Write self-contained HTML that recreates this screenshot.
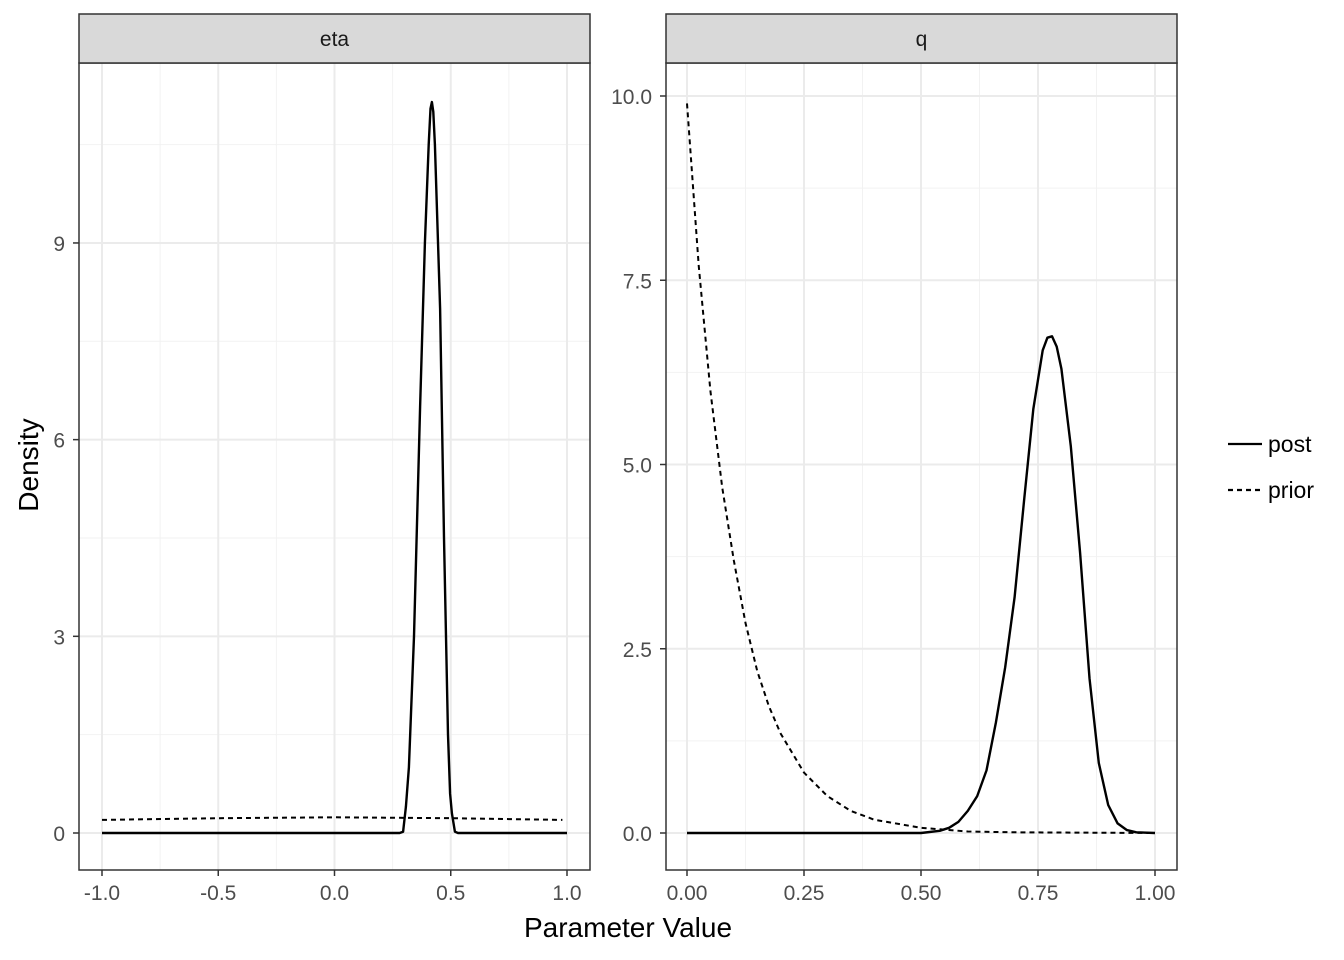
<!DOCTYPE html>
<html><head><meta charset="utf-8"><style>
html,body{margin:0;padding:0;background:#fff}
svg{display:block;font-family:"Liberation Sans",sans-serif}
</style></head><body>
<svg id="chart" width="1344" height="960"></svg>
<script>
// ---- data ----
const etaXTicks=[-1,-0.5,0,0.5,1];
const etaXLabels=["-1.0","-0.5","0.0","0.5","1.0"];
const etaYTicks=[0,3,6,9];
const etaYLabels=["0","3","6","9"];
const etaPostX=[-1,0.28,0.295,0.307,0.32,0.342,0.368,0.389,0.405,0.413,0.419,0.425,0.432,0.454,0.471,0.488,0.497,0.505,0.518,0.531,1];
const etaPostY=[0,0,0.02,0.4,1.0,3,6.5,9,10.5,11.05,11.15,11.0,10.5,8,4.5,1.5,0.6,0.3,0.02,0,0];
const etaPriorX=[-1,-0.5,0,0.5,0.98];
const etaPriorY=[0.2,0.225,0.24,0.225,0.2];
const qXTicks=[0,0.25,0.5,0.75,1];
const qXLabels=["0.00","0.25","0.50","0.75","1.00"];
const qYTicks=[0,2.5,5,7.5,10];
const qYLabels=["0.0","2.5","5.0","7.5","10.0"];
const qPostX=[0,0.5,0.54,0.56,0.58,0.60,0.62,0.64,0.66,0.68,0.70,0.72,0.74,0.76,0.77,0.78,0.79,0.80,0.82,0.84,0.86,0.88,0.90,0.92,0.94,0.96,1];
const qPostY=[0,0,0.03,0.07,0.15,0.3,0.5,0.85,1.5,2.25,3.2,4.5,5.75,6.55,6.72,6.74,6.6,6.3,5.25,3.8,2.1,0.95,0.38,0.13,0.04,0.01,0];
const qPriorX=[0,0.025,0.05,0.075,0.1,0.125,0.15,0.175,0.2,0.25,0.3,0.35,0.4,0.5,0.6,0.7,1];
const qPriorY=[9.9,7.7,6.0,4.7,3.7,2.85,2.2,1.72,1.35,0.82,0.5,0.3,0.18,0.07,0.02,0.01,0];

const NS="http://www.w3.org/2000/svg";
const svg=document.getElementById('chart');
function mk(tag,attrs,parent){const e=document.createElementNS(NS,tag);for(const k in attrs)e.setAttribute(k,attrs[k]);(parent||svg).appendChild(e);return e;}

function panel(cfg){
  const g=mk('g',{});
  
  
  const L=cfg.left,R=cfg.right,T=63,B=870;
  const sx=v=>cfg.x0px+(v-cfg.xmin)*(cfg.x1px-cfg.x0px)/(cfg.xmax-cfg.xmin);
  const sy=v=>833-v*cfg.ypx;
  mk('rect',{x:L,y:T,width:R-L,height:B-T,fill:'#fff'},g);
  for(let i=0;i<cfg.xt.length-1;i++){const m=(cfg.xt[i]+cfg.xt[i+1])/2;mk('line',{x1:sx(m),x2:sx(m),y1:T,y2:B,stroke:'#f2f2f2','stroke-width':1},g);}
  const yst=cfg.yt[1]-cfg.yt[0];
  for(let v=cfg.yt[0]+yst/2;sy(v)>T;v+=yst){mk('line',{x1:L,x2:R,y1:sy(v),y2:sy(v),stroke:'#f2f2f2','stroke-width':1},g);}
  cfg.xt.forEach(v=>mk('line',{x1:sx(v),x2:sx(v),y1:T,y2:B,stroke:'#ebebeb','stroke-width':2},g));
  cfg.yt.forEach(v=>mk('line',{x1:L,x2:R,y1:sy(v),y2:sy(v),stroke:'#ebebeb','stroke-width':2},g));
  const pts=(xs,ys)=>xs.map((x,i)=>sx(x).toFixed(1)+','+sy(ys[i]).toFixed(1)).join(' ');
  const pr=mk('polyline',{points:pts(cfg.priorX,cfg.priorY),fill:'none',stroke:'#000','stroke-width':2,'stroke-dasharray':'5,4','stroke-linejoin':'round'},g);
  
  
  const po=mk('polyline',{points:pts(cfg.postX,cfg.postY),fill:'none',stroke:'#000','stroke-width':2.4,'stroke-linejoin':'round'},g);
  
  
  mk('rect',{x:L,y:T,width:R-L,height:B-T,fill:'none',stroke:'#333','stroke-width':1.5},g);
  const st=mk('rect',{x:L,y:14,width:R-L,height:49,fill:'#d9d9d9',stroke:'#333','stroke-width':1.5},g);
  
  
  const stt=mk('text',{x:(L+R)/2,y:46,'text-anchor':'middle','font-size':21,fill:'#1a1a1a'},g);
  stt.textContent=cfg.name;
  
  
  cfg.xt.forEach((v,i)=>{mk('line',{x1:sx(v),x2:sx(v),y1:B,y2:B+6,stroke:'#333','stroke-width':1.5},g);
    const t=mk('text',{x:sx(v),y:B+30,'text-anchor':'middle','font-size':21,fill:'#4d4d4d'},g);t.textContent=cfg.xl[i];
    
    });
  cfg.yt.forEach((v,i)=>{mk('line',{x1:L-6,x2:L,y1:sy(v),y2:sy(v),stroke:'#333','stroke-width':1.5},g);
    const t=mk('text',{x:L-14,y:sy(v)+8,'text-anchor':'end','font-size':21,fill:'#4d4d4d'},g);t.textContent=cfg.yl[i];
    
    });
}
panel({name:'eta',left:79,right:590,xmin:-1,xmax:1,x0px:102,x1px:567,ypx:65.56,xt:etaXTicks,xl:etaXLabels,yt:etaYTicks,yl:etaYLabels,postX:etaPostX,postY:etaPostY,priorX:etaPriorX,priorY:etaPriorY});
panel({name:'q',left:666,right:1177,xmin:0,xmax:1,x0px:687,x1px:1155,ypx:73.7,xt:qXTicks,xl:qXLabels,yt:qYTicks,yl:qYLabels,postX:qPostX,postY:qPostY,priorX:qPriorX,priorY:qPriorY});

let t=mk('text',{x:628,y:937,'text-anchor':'middle','font-size':28,fill:'#000'});t.textContent='Parameter Value';


t=mk('text',{x:38,y:465,'text-anchor':'middle','font-size':28,fill:'#000',transform:'rotate(-90 38 465)'});t.textContent='Density';


const lg=mk('g',{});


mk('line',{x1:1228,x2:1262,y1:444,y2:444,stroke:'#000','stroke-width':2.2},lg);
mk('line',{x1:1228,x2:1262,y1:490,y2:490,stroke:'#000','stroke-width':2.2,'stroke-dasharray':'5,4'},lg);
t=mk('text',{x:1268,y:452,'font-size':23,fill:'#000'},lg);t.textContent='post';


t=mk('text',{x:1268,y:498,'font-size':23,fill:'#000'},lg);t.textContent='prior';


</script>
</body></html>
